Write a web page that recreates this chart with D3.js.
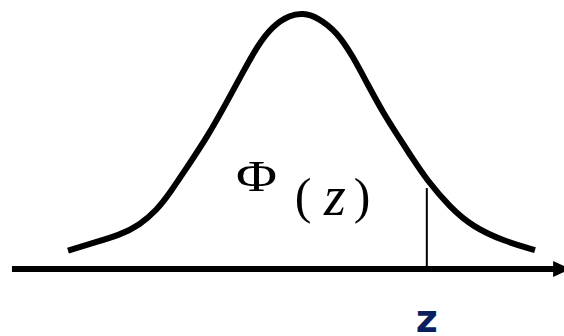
<!DOCTYPE html>
<html>
<head>
<meta charset="utf-8">
<script src="https://cdn.jsdelivr.net/npm/d3@7"></script>
<style>
  html, body { margin: 0; padding: 0; background: #fff; overflow: hidden; }
  svg { display: block; }
</style>
</head>
<body>
<svg id="chart" width="564" height="336"></svg>
<script>
// Curve sample points (x in standard deviations, y relative to peak)
const curveX = [-3.00, -2.68, -2.33, -2.08, -1.86, -1.69, -1.47, -1.21, -0.96, -0.75, -0.57, -0.37, -0.15, 0.02, 0.20, 0.46, 0.66, 0.84, 1.05, 1.27, 1.43, 1.61, 1.91, 2.20, 2.59, 3.00];
const curveY = [0.072, 0.102, 0.133, 0.172, 0.230, 0.297, 0.398, 0.516, 0.652, 0.770, 0.870, 0.950, 0.992, 1.000, 0.985, 0.925, 0.830, 0.727, 0.609, 0.505, 0.430, 0.348, 0.240, 0.165, 0.110, 0.074];
const zValue = 1.61;          // position of the vertical marker
const zHeight = 0.316;        // top of the marker line
const axisRange = [-3.72, 3.40]; // extent of the horizontal axis arrow
const labels = { phi: "Φ", open: "(", zi: "z", close: ")", z: "z" };

const svg = d3.select("#chart");
const x = d3.scaleLinear().domain([-3, 3]).range([68, 535]);
const y = d3.scaleLinear().domain([0, 1]).range([269, 13]);

const pts = curveX.map((v, i) => [v, curveY[i]]);

// axis line
svg.append("line")
  .attr("x1", x(axisRange[0])).attr("x2", x(axisRange[1]) - 10)
  .attr("y1", y(0)).attr("y2", y(0))
  .attr("stroke", "#000").attr("stroke-width", 6);
// arrowhead
const tip = x(axisRange[1]) + 4;
svg.append("path")
  .attr("d", `M${tip - 17},${y(0) - 8}L${tip},${y(0)}L${tip - 17},${y(0) + 8}Z`)
  .attr("fill", "#000");

// vertical marker
svg.append("line")
  .attr("x1", x(zValue)).attr("x2", x(zValue))
  .attr("y1", y(zHeight)).attr("y2", y(0))
  .attr("stroke", "#000").attr("stroke-width", 2);

// curve
svg.append("path")
  .datum(pts)
  .attr("d", d3.line().x(d => x(d[0])).y(d => y(d[1])).curve(d3.curveBasis))
  .attr("fill", "none").attr("stroke", "#000").attr("stroke-width", 6)
  .attr("stroke-linecap", "butt").attr("stroke-linejoin", "round");

// Φ(z) label
const serif = "'Liberation Serif', 'Times New Roman', serif";
svg.append("text").text(labels.phi)
  .attr("x", 236).attr("y", 191)
  .attr("font-family", serif).attr("font-size", 45)
  .attr("textLength", 41).attr("lengthAdjust", "spacingAndGlyphs")
  .attr("fill", "#000");
svg.append("text").text(labels.open)
  .attr("x", 303).attr("y", 213).attr("text-anchor", "middle")
  .attr("font-family", serif).attr("font-size", 50).attr("fill", "#000");
svg.append("text").text(labels.zi)
  .attr("x", 335).attr("y", 215).attr("text-anchor", "middle")
  .attr("font-family", serif).attr("font-style", "italic").attr("font-size", 56).attr("fill", "#000");
svg.append("text").text(labels.close)
  .attr("x", 362).attr("y", 213).attr("text-anchor", "middle")
  .attr("font-family", serif).attr("font-size", 50).attr("fill", "#000");

// z label under axis
svg.append("text").text(labels.z)
  .attr("x", x(zValue)).attr("y", 332).attr("text-anchor", "middle")
  .attr("font-family", "'DejaVu Sans', Verdana, sans-serif").attr("font-weight", "bold")
  .attr("font-size", 38).attr("fill", "#0b1f5c");
</script>
</body>
</html>
